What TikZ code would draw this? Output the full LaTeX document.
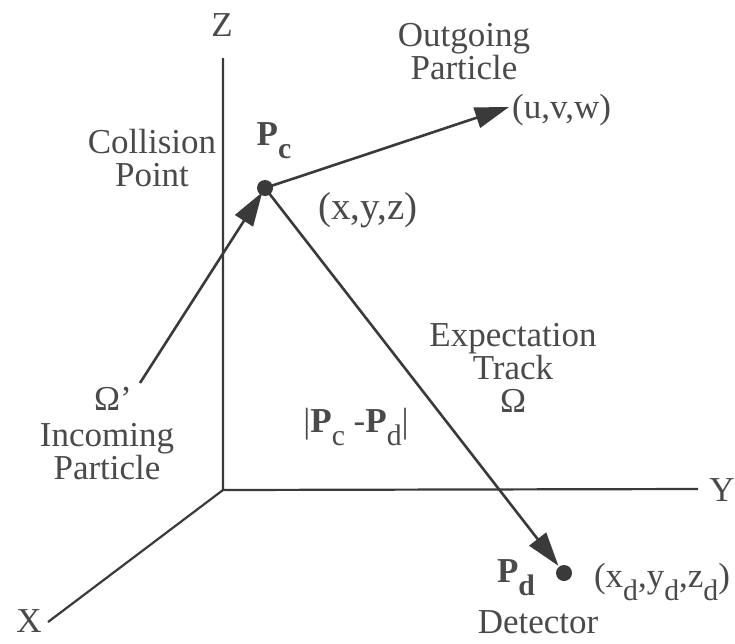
\documentclass[tikz,border=0pt]{standalone}
\usepackage{fontspec}
\setmainfont{Liberation Serif}
\usetikzlibrary{arrows.meta}
\definecolor{ink}{HTML}{3A3A3A}
\definecolor{txt}{HTML}{4A4A4A}
\newcommand\lowr[1]{\raisebox{-0.38em}{\scalebox{0.85}{#1}}}
\begin{document}
\begin{tikzpicture}[x=1pt,y=-1pt,
  lbl/.style={font=\fontsize{35}{33}\selectfont, text=txt, inner sep=0pt, align=center},
  axis/.style={draw=ink, line width=2.2pt},
  track/.style={draw=ink, line width=2.6pt, -{Triangle[length=34pt,width=21pt]}},
  dotp/.style={circle, fill=ink, minimum size=16pt, inner sep=0pt}]
\useasboundingbox (0,0) rectangle (735,643);
% axes
\coordinate (O) at (223,490);
\coordinate (Zend) at (223,58);
\coordinate (Yend) at (698,489);
\coordinate (Xend) at (48,622);
\draw[axis] (Zend) -- (O) -- (Yend);
\draw[axis] (O) -- (Xend);
\node[lbl] (zl) at (222,25) {Z};
\node[lbl] (yl) at (722,490) {Y};
\node[lbl] (xl) at (29,621) {X};
% points
\node[dotp] (pc) at (265,188) {};
\node[dotp] (pd) at (564,573) {};
\coordinate (uvw) at (509,107);
\coordinate (inc) at (140,383);
% arrows
\draw[track] (pc.center) -- (uvw);
\draw[track, shorten >=5pt] (inc) -- (pc.center);
\draw[track, shorten >=9pt] (pc.center) -- (pd.center);
% labels
\node[lbl] (coll) at (152,158) {Collision\\Point};
\node[lbl] (outg) at (464,52) {Outgoing\\Particle};
\node[lbl, anchor=west] (uvwl) at (512,110) {(u,v,w)};
\node[lbl, font=\fontsize{39}{38}\selectfont] (xyz) at (368,210) {(x,y,z)};
\node[lbl] (pcl) at (274,141) {\textbf{P}\lowr{\textbf{c}}};
\node[lbl] (pdl) at (516,578) {\textbf{P}\lowr{\textbf{d}}};
\node[lbl] (xyzd) at (662,582) {(x\lowr{d},y\lowr{d},z\lowr{d})};
\node[lbl] (det) at (538,622) {Detector};
\node[lbl] (exp) at (513,368) {Expectation\\Track\\Ω};
\node[lbl] (om) at (113,399) {Ω’};
\node[lbl] (incl) at (107,452) {Incoming\\Particle};
\node[lbl] (dist) at (356,427) {|\textbf{P}\lowr{c} -\textbf{P}\lowr{d}|};
\end{tikzpicture}
\end{document}
